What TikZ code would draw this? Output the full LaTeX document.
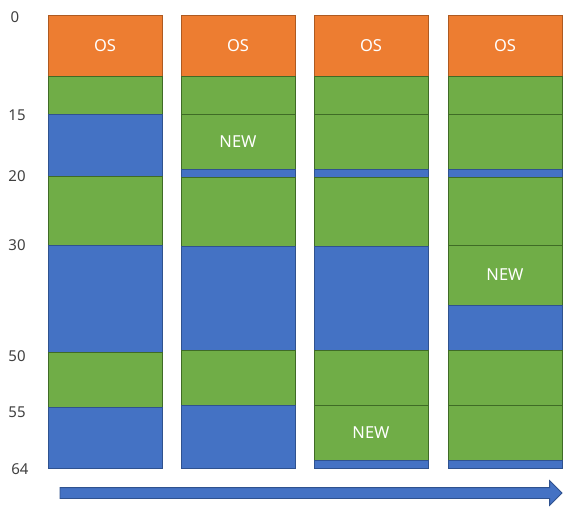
\documentclass[tikz,border=0pt]{standalone}
\usepackage{fontspec}
\setmainfont{Noto Sans}
\usetikzlibrary{shapes.arrows}
\definecolor{osc}{HTML}{ED7D31}
\definecolor{osd}{HTML}{AE5A21}
\definecolor{grc}{HTML}{70AD47}
\definecolor{grd}{HTML}{3F6B26}
\definecolor{blc}{HTML}{4472C4}
\definecolor{bld}{HTML}{2F528F}
\definecolor{numc}{HTML}{404040}
\tikzset{
  blk/.style={rectangle, anchor=north west, inner sep=0pt, outer sep=0pt,
    minimum width=114pt, line width=0.8pt, text=white,
    font=\fontsize{16.5}{16.5}\selectfont},
  osb/.style={blk, fill=osc, draw=osd},
  grb/.style={blk, fill=grc, draw=grd},
  blb/.style={blk, fill=blc, draw=bld},
  num/.style={text=numc, font=\fontsize{15}{15}\selectfont}
}
\begin{document}
\begin{tikzpicture}[x=1pt,y=-1pt]
\useasboundingbox (0,0) rectangle (575,513);
% column 1
\node[osb, minimum height=61pt] (a1) at (48,15) {OS};
\node[grb, minimum height=38pt] (a2) at (48,76) {};
\node[blb, minimum height=62pt] (a3) at (48,114) {};
\node[grb, minimum height=69pt] (a4) at (48,176) {};
\node[blb, minimum height=107pt] (a5) at (48,245) {};
\node[grb, minimum height=55pt] (a6) at (48,352) {};
\node[blb, minimum height=61pt] (a7) at (48,407) {};
% column 2
\node[osb, minimum height=61pt] (b1) at (181,15) {OS};
\node[grb, minimum height=38pt] (b2) at (181,76) {};
\node[grb, minimum height=55pt] (b3) at (181,114) {NEW};
\node[blb, minimum height=8pt] (b4) at (181,169) {};
\node[grb, minimum height=69pt] (b5) at (181,177) {};
\node[blb, minimum height=104pt] (b6) at (181,246) {};
\node[grb, minimum height=55pt] (b7) at (181,350) {};
\node[blb, minimum height=63pt] (b8) at (181,405) {};
% column 3
\node[osb, minimum height=61pt] (c1) at (314,15) {OS};
\node[grb, minimum height=38pt] (c2) at (314,76) {};
\node[grb, minimum height=55pt] (c3) at (314,114) {};
\node[blb, minimum height=8pt] (c4) at (314,169) {};
\node[grb, minimum height=69pt] (c5) at (314,177) {};
\node[blb, minimum height=104pt] (c6) at (314,246) {};
\node[grb, minimum height=55pt] (c7) at (314,350) {};
\node[grb, minimum height=55pt] (c8) at (314,405) {NEW};
\node[blb, minimum height=8pt] (c9) at (314,460) {};
% column 4
\node[osb, minimum height=61pt] (d1) at (448,15) {OS};
\node[grb, minimum height=38pt] (d2) at (448,76) {};
\node[grb, minimum height=55pt] (d3) at (448,114) {};
\node[blb, minimum height=8pt] (d4) at (448,169) {};
\node[grb, minimum height=68pt] (d5) at (448,177) {};
\node[grb, minimum height=60pt] (d6) at (448,245) {NEW};
\node[blb, minimum height=45pt] (d7) at (448,305) {};
\node[grb, minimum height=55pt] (d8) at (448,350) {};
\node[grb, minimum height=55pt] (d9) at (448,405) {};
\node[blb, minimum height=8pt] (d10) at (448,460) {};
% address labels
\node[num] (n0) at (15,17) {0};
\node[num] (n15) at (17,115) {15};
\node[num] (n20) at (17,176) {20};
\node[num] (n30) at (17,245) {30};
\node[num] (n50) at (17,356) {50};
\node[num] (n55) at (17,412) {55};
\node[num] (n64) at (20,469) {64};
% arrow
\node[single arrow, draw=bld, fill=blc, line width=0.8pt, inner xsep=0pt, inner ysep=5pt,
  outer sep=0pt, minimum height=502pt, single arrow head extend=7pt,
  single arrow tip angle=90, anchor=west] (arr) at (60,493) {};
\end{tikzpicture}
\end{document}
